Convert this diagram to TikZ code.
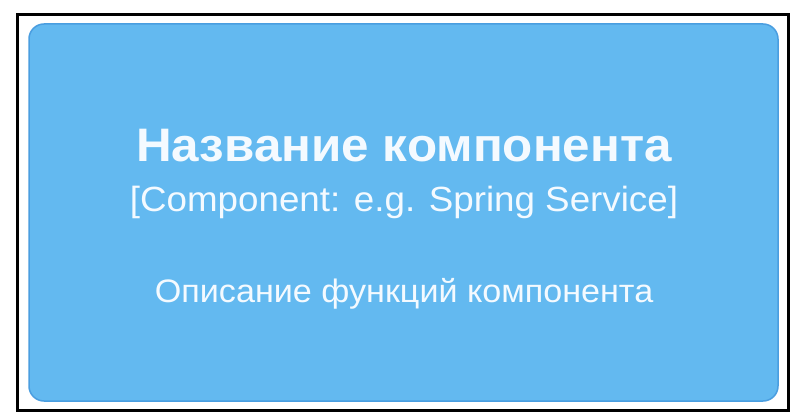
\documentclass[tikz,border=0pt]{standalone}
\usepackage{fontspec}
\setmainfont{Liberation Sans}
\usetikzlibrary{positioning}
\definecolor{compfill}{HTML}{63B9F0}
\definecolor{compline}{HTML}{4A9EE0}
\definecolor{comptext}{HTML}{F4FAFF}
\begin{document}
\begin{tikzpicture}[x=1pt,y=-1pt,
		compbox/.style={draw=compline,line width=1.5pt,fill=compfill,rounded corners=15pt},
		boxtext/.style={text=comptext,inner sep=0pt,anchor=base,xscale=1.05,transform shape},
		titletext/.style={boxtext,font=\bfseries\fontsize{47}{50}\selectfont},
		subtext/.style={boxtext,font=\fontsize{35}{40}\selectfont},
		desctext/.style={boxtext,font=\fontsize{32.5}{36}\selectfont}
		]
		\useasboundingbox (0,0) rectangle (800,420);
		\fill[white] (0,0) rectangle (800,420);
		\draw[line width=3pt] (17,15) rectangle (788,410);
		\draw[compbox] (29,24) rectangle (778,401);
		\node[titletext](T0) at (404,161){Название компонента};
		\node[subtext](T1) at (404,211){[Component: e.g. Spring Service]};
		\node[desctext](T2) at (404,302){Описание функций компонента};
	\end{tikzpicture}
\end{document}
